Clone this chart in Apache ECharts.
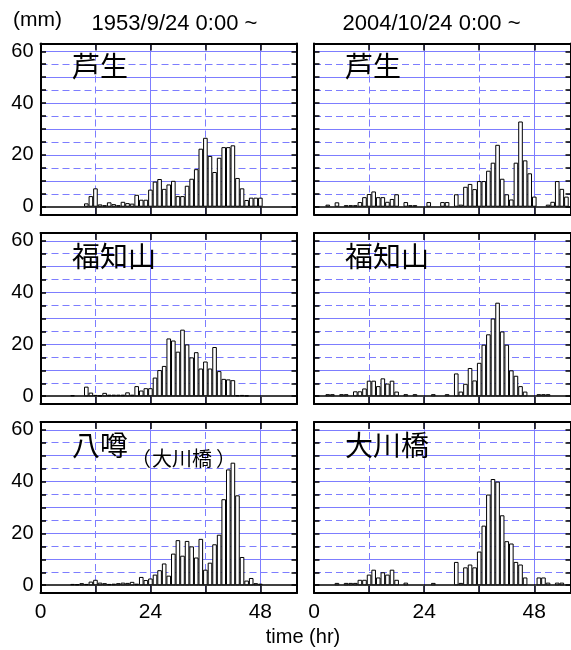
<!DOCTYPE html>
<html><head><meta charset="utf-8">
<script src="https://cdn.jsdelivr.net/npm/echarts@6/dist/echarts.min.js"></script>
<style>html,body{margin:0;padding:0;background:#fff}#c{width:571px;height:650px}</style>
</head><body><div id="c"></div>
<script>
// hourly rainfall (mm), index = hour from start
const ashiu1953 = [0,0,0,0,0,0,0,0,0,0, 1.3,4.1,7.1,0.9,0.6,1.7,1.0,0.6,1.9,1.4, 1.2,4.6,2.7,2.7,6.6,9.7,10.7,6.9,8.6,10.0, 4.1,4.1,8.1,10.8,14.5,22.4,26.6,19.6,13.4,18.9, 23.0,23.0,23.7,11.1,7.1,2.6,3.5,3.5,3.5,0, 0,0,0,0,0,0];
const ashiu2004 = [0,0,0,0.8,0,1.7,0,0.6,0.6,0.6, 1.8,3.7,4.9,5.9,3.7,3.7,1.9,3.0,4.8,0, 1.8,0.6,0.6,0,0,1.8,0,0,1.8,1.8, 0,4.8,0.8,7.7,8.8,6.8,9.9,9.9,13.9,17.0, 23.9,10.8,4.8,2.8,17.0,32.9,17.9,12.9,3.9,0, 0,0.8,1.9,9.9,6.9,3.9];
const fukuchiyama1953 = [0,0,0,0,0,0,0,0.4,0,0, 3.7,1.4,0.5,0.3,1.3,0.6,0.6,0.6,0.6,1.5, 0.6,3.9,2.2,3.1,3.1,7.2,10.1,11.7,22.3,21.5, 17.2,25.7,20.0,15.0,17.0,10.7,13.4,10.7,19.0,9.7, 6.7,6.5,6.2,0.4,0.5,0.3,0,0,0,0, 0,0,0,0,0,0];
const fukuchiyama2004 = [0,0,0,0.8,0.8,0,0.8,0.8,0,1.9, 1.9,3.0,6.0,6.0,3.9,6.9,4.9,6.0,1.8,0, 0.8,0,0.8,0,0,0,0.8,0,0,0.8, 0,8.8,1.8,4.8,10.9,6.1,12.9,19.9,23.9,30.0, 36.1,25.0,19.9,10.0,7.9,3.9,1.8,0,0,0.8, 0.8,0.8,0,0,0,0];
const yatsuuwasa1953 = [0,0,0,0,0,0,0,0.5,0.4,0.8, 0.5,1.4,2.1,1.0,0.8,0.5,0.6,0.8,1.0,0.9, 1.3,0.6,3.2,2.0,2.6,4.1,5.8,8.4,3.7,12.2, 17.4,11.4,17.1,15.0,10.7,17.9,6.0,8.7,15.8,19.5, 33.2,44.7,47.3,34.7,10.9,1.8,2.8,0.8,0.6,0, 0,0,0,0,0,0];
const ohkawabashi2004 = [0,0,0,0,0,0.9,0,0.9,0.9,0.9, 2.1,2.1,4.1,6.0,3.0,5.0,4.1,6.0,2.1,0, 1.0,0,0,0,0,0,0.9,0,0,0, 0,9.0,0.9,6.9,8.0,6.9,13.0,23.0,35.0,41.0, 40.0,27.0,17.0,16.1,9.0,8.0,3.0,0,0,3.0, 3.0,1.0,0,1.0,1.0,0];

const panelSeries = [ashiu1953, ashiu2004, fukuchiyama1953, fukuchiyama2004, yatsuuwasa1953, ohkawabashi2004];
const stationNames = ['芦生','芦生','福知山','福知山','八噂','大川橋'];
const subParts = ['（','大川橋','）'];
const dateLabels = ['1953/9/24 0:00 ~','2004/10/24 0:00 ~'];
const yTickValues = [0,5,10,15,20,25,30,35,40,45,50,55,60];
const yLabelValues = [0,20,40,60];
const xTickValues = [12,24,36,48];
const xLabelValues = [0,24,48];
const hSolid = [10,20,30,40,50,60];
const hDashed = [5,15,25,35,45,55];
const vSolid = [24,48];
const vDashed = [12,36];
const xMax = 56, yMin = -3, yMax = 63;

const LAT = 'Liberation Sans, Arial, sans-serif';
const CJK = '"Noto Sans CJK JP", sans-serif';
const cols = [{left:40.5, width:256.5},{left:314, width:258.5}];
const rows = [43.5, 233, 422];
const H = 171;
const BLUE = '#7d7dff';

const grids = [], xAxes = [], yAxes = [], series = [], graphics = [];
panelSeries.forEach((vals, i) => {
  const r = Math.floor(i/2), c = i%2;
  grids.push({left: cols[c].left, top: rows[r], width: cols[c].width, height: H, containLabel:false});
  const axLine = {show:true, onZero:false, lineStyle:{color:'#000', width:2}};
  ['bottom','top'].forEach(pos => {
    xAxes.push({gridIndex:i, type:'value', min:0, max:xMax, position:pos, z:10,
      axisLine: axLine,
      axisTick:{show:true, inside:true, length:7, customValues:xTickValues, lineStyle:{color:'#000', width:1.5}},
      axisLabel:{show: pos==='bottom' && r===2, customValues:xLabelValues, fontSize:21, color:'#000', fontFamily:LAT, margin:9,
        formatter: v => xLabelValues.includes(v) ? String(v) : ''},
      splitLine:{show:false}});
  });
  ['left','right'].forEach(pos => {
    yAxes.push({gridIndex:i, type:'value', min:yMin, max:yMax, position:pos, z:10,
      axisLine: axLine,
      axisTick:{show:true, inside:true, length:5.5, customValues:yTickValues, lineStyle:{color:'#000', width:1.5}},
      axisLabel:{show: pos==='left' && c===0, customValues:yLabelValues, fontSize:20, color:'#000', fontFamily:LAT, margin:7,
        formatter: v => yLabelValues.includes(v) ? String(v) : ''},
      splitLine:{show:false}});
  });
  const solidLines = vSolid.map(v => ({xAxis:v})).concat(hSolid.map(v => ({yAxis:v})));
  const dashedLines = vDashed.map(v => ({xAxis:v})).concat(hDashed.map(v => ({yAxis:v})));
  series.push({type:'line', xAxisIndex:2*i, yAxisIndex:2*i, z:1, data:[], silent:true, animation:false,
    markLine:{z:1, silent:true, symbol:['none','none'], label:{show:false}, animation:false,
      lineStyle:{color:BLUE, width:1, type:'solid'}, data: solidLines}});
  series.push({type:'line', xAxisIndex:2*i, yAxisIndex:2*i, z:1, data:[], silent:true, animation:false,
    markLine:{z:1, silent:true, symbol:['none','none'], label:{show:false}, animation:false,
      lineStyle:{color:BLUE, width:1, type:[7,4]}, data: dashedLines}});
  series.push({
    type:'bar', xAxisIndex:2*i, yAxisIndex:2*i, z:3, barWidth:4.6,
    data: vals.map((v,h)=>[h,v]).filter(d=>d[1]>0),
    itemStyle:{color:'#fff', borderColor:'#000', borderWidth:1},
    animation:false, silent:true,
    markLine:{z:2, silent:true, symbol:['none','none'], label:{show:false}, animation:false,
      lineStyle:{color:'#000', width:1.5, type:'solid'}, data:[{yAxis:0}]}
  });
  const lx = cols[c].left + (c===0 ? 31.5 : 31);
  const ly = rows[r] + 25;
  graphics.push({type:'text', left: lx, top: ly - 16, z:20,
    style:{text: stationNames[i], font:'28px ' + CJK, fill:'#000'}});
  if (i === 4) {
    const subX = [131, 152, 216];
    subParts.forEach((t, j) => graphics.push({type:'text', left: subX[j], top: ly - 16 + 17, z:20,
      style:{text: t, font:'20px ' + CJK, fill:'#000'}}));
  }
});

graphics.push({type:'text', left:13, top:10, style:{text:'(mm)', font:'21px ' + LAT, fill:'#000'}});
graphics.push({type:'text', x:174.5, y:23.5, style:{text:dateLabels[0], font:'22px ' + LAT, fill:'#000', textAlign:'center', textVerticalAlign:'middle'}});
graphics.push({type:'text', x:431.5, y:23.5, style:{text:dateLabels[1], font:'22px ' + LAT, fill:'#000', textAlign:'center', textVerticalAlign:'middle'}});
graphics.push({type:'text', x:303, y:637, style:{text:'time (hr)', font:'20px ' + LAT, fill:'#000', textAlign:'center', textVerticalAlign:'middle'}});

const chart = echarts.init(document.getElementById('c'), null, {renderer:'canvas'});
chart.setOption({animation:false, backgroundColor:'#fff', grid:grids, xAxis:xAxes, yAxis:yAxes, series:series, graphic:graphics});
</script></body></html>
